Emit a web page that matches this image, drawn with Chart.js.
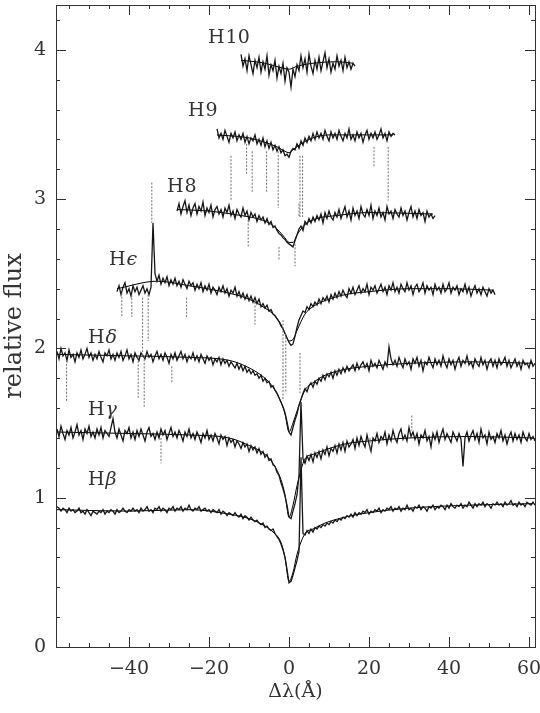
<!DOCTYPE html>
<html>
<head>
<meta charset="utf-8">
<title>Balmer line profiles</title>
<script src="https://cdn.jsdelivr.net/npm/chart.js@4.4.1/dist/chart.umd.min.js"></script>
<style>
  html, body { margin: 0; padding: 0; background: #fff; }
  canvas { display: block; }
</style>
</head>
<body>
<canvas id="spectra" width="540" height="713"></canvas>
<script>
// Normalised Balmer line spectra, sampled every 0.5 A, offset vertically
const step = 0.5;

const hBetaStart = -58;
const hBeta = [
  0.94, 0.93, 0.91, 0.93, 0.92, 0.90, 0.93, 0.91, 0.92, 0.90,
  0.91, 0.93, 0.90, 0.91, 0.89, 0.92, 0.90, 0.88, 0.91, 0.90,
  0.89, 0.91, 0.90, 0.92, 0.89, 0.91, 0.90, 0.92, 0.91, 0.89,
  0.92, 0.90, 0.91, 0.93, 0.91, 0.90, 0.92, 0.91, 0.93, 0.91,
  0.92, 0.90, 0.93, 0.91, 0.92, 0.94, 0.91, 0.92, 0.90, 0.93,
  0.92, 0.94, 0.91, 0.93, 0.92, 0.90, 0.93, 0.92, 0.94, 0.91,
  0.93, 0.92, 0.94, 0.91, 0.93, 0.92, 0.95, 0.92, 0.91, 0.93,
  0.92, 0.94, 0.91, 0.92, 0.93, 0.91, 0.92, 0.90, 0.92, 0.91,
  0.90, 0.92, 0.89, 0.91, 0.90, 0.88, 0.90, 0.89, 0.88, 0.90,
  0.88, 0.87, 0.89, 0.86, 0.88, 0.87, 0.85, 0.87, 0.85, 0.84,
  0.85, 0.83, 0.82, 0.83, 0.80, 0.81, 0.79, 0.78, 0.79, 0.76,
  0.74, 0.72, 0.69, 0.65, 0.60, 0.52, 0.43, 0.44, 0.48, 0.53,
  0.58, 0.64, 1.27, 0.76, 0.75, 0.78, 0.76, 0.79, 0.77, 0.80,
  0.79, 0.81, 0.80, 0.82, 0.81, 0.83, 0.82, 0.84, 0.83, 0.85,
  0.84, 0.86, 0.85, 0.87, 0.86, 0.88, 0.87, 0.89, 0.87, 0.90,
  0.88, 0.90, 0.89, 0.91, 0.90, 0.92, 0.89, 0.91, 0.90, 0.92,
  0.91, 0.93, 0.90, 0.92, 0.91, 0.93, 0.92, 0.94, 0.91, 0.93,
  0.92, 0.94, 0.91, 0.93, 0.92, 0.95, 0.92, 0.93, 0.91, 0.94,
  0.93, 0.95, 0.92, 0.94, 0.93, 0.91, 0.94, 0.93, 0.95, 0.92,
  0.94, 0.93, 0.95, 0.94, 0.92, 0.95, 0.93, 0.96, 0.94, 0.93,
  0.95, 0.94, 0.96, 0.93, 0.95, 0.94, 0.97, 0.95, 0.93, 0.96,
  0.94, 0.96, 0.95, 0.97, 0.94, 0.96, 0.95, 0.93, 0.96, 0.95,
  0.97, 0.95, 0.96, 0.94, 0.97, 0.95, 0.96, 0.98, 0.95, 0.96,
  0.94, 0.97, 0.95, 0.96, 0.94, 0.97, 0.96, 0.95, 0.97, 0.95
];

const hGammaStart = -58;
const hGamma = [
  1.46, 1.41, 1.48, 1.43, 1.39, 1.45, 1.42, 1.47, 1.40, 1.44,
  1.49, 1.42, 1.45, 1.39, 1.46, 1.43, 1.48, 1.41, 1.44, 1.40,
  1.46, 1.42, 1.47, 1.40, 1.45, 1.43, 1.41, 1.47, 1.53, 1.44,
  1.40, 1.46, 1.42, 1.38, 1.45, 1.43, 1.47, 1.40, 1.44, 1.39,
  1.45, 1.41, 1.46, 1.42, 1.38, 1.44, 1.47, 1.41, 1.43, 1.39,
  1.44, 1.40, 1.46, 1.42, 1.45, 1.39, 1.43, 1.47, 1.41, 1.44,
  1.40, 1.45, 1.42, 1.38, 1.44, 1.41, 1.46, 1.40, 1.43, 1.39,
  1.44, 1.41, 1.37, 1.43, 1.40, 1.45, 1.39, 1.42, 1.38, 1.43,
  1.40, 1.36, 1.42, 1.39, 1.41, 1.35, 1.40, 1.37, 1.39, 1.34,
  1.38, 1.36, 1.33, 1.37, 1.34, 1.36, 1.31, 1.35, 1.32, 1.34,
  1.30, 1.33, 1.29, 1.31, 1.27, 1.29, 1.25, 1.26, 1.22, 1.21,
  1.17, 1.15, 1.10, 1.06, 1.01, 0.95, 0.87, 0.86, 0.91, 0.96,
  1.02, 1.15, 1.64, 1.26, 1.23, 1.28, 1.25, 1.29, 1.24, 1.30,
  1.27, 1.31, 1.26, 1.32, 1.29, 1.34, 1.28, 1.33, 1.31, 1.35,
  1.30, 1.36, 1.32, 1.37, 1.31, 1.38, 1.34, 1.36, 1.39, 1.33,
  1.40, 1.35, 1.41, 1.37, 1.34, 1.42, 1.36, 1.31, 1.40, 1.38,
  1.43, 1.37, 1.41, 1.39, 1.44, 1.36, 1.42, 1.38, 1.45, 1.40,
  1.37, 1.43, 1.46, 1.39, 1.42, 1.38, 1.47, 1.41, 1.44, 1.39,
  1.43, 1.36, 1.42, 1.40, 1.45, 1.38, 1.41, 1.34, 1.43, 1.39,
  1.44, 1.37, 1.42, 1.46, 1.39, 1.43, 1.40, 1.37, 1.44, 1.41,
  1.38, 1.43, 1.39, 1.21, 1.40, 1.44, 1.38, 1.42, 1.45, 1.39,
  1.43, 1.37, 1.46, 1.40, 1.42, 1.36, 1.44, 1.39, 1.41, 1.37,
  1.43, 1.40, 1.45, 1.38, 1.42, 1.36, 1.41, 1.44, 1.38, 1.43,
  1.39, 1.42, 1.37, 1.44, 1.40, 1.38, 1.43, 1.39, 1.41, 1.38
];

const hDeltaStart = -58;
const hDelta = [
  1.98, 1.93, 2.00, 1.95, 1.97, 1.92, 1.99, 1.94, 1.96, 1.91,
  1.97, 1.94, 1.99, 1.93, 1.96, 2.00, 1.94, 1.97, 1.92, 1.96,
  1.93, 1.98, 1.94, 1.91, 1.97, 1.95, 1.99, 1.93, 1.96, 1.92,
  1.97, 1.94, 1.98, 1.92, 1.95, 1.99, 1.93, 1.96, 1.91, 1.97,
  1.94, 1.92, 1.97, 1.95, 1.93, 1.98, 1.94, 1.96, 1.91, 1.95,
  1.98, 1.93, 1.96, 1.92, 1.97, 1.94, 1.90, 1.96, 1.93, 1.97,
  1.92, 1.95, 1.98, 1.93, 1.96, 1.91, 1.95, 1.93, 1.97, 1.92,
  1.95, 1.91, 1.96, 1.93, 1.90, 1.95, 1.92, 1.94, 1.89, 1.93,
  1.91, 1.94, 1.89, 1.93, 1.90, 1.92, 1.88, 1.91, 1.89, 1.87,
  1.90, 1.86, 1.89, 1.85, 1.88, 1.84, 1.86, 1.83, 1.85, 1.82,
  1.83, 1.80, 1.82, 1.78, 1.80, 1.77, 1.78, 1.74, 1.75, 1.72,
  1.70, 1.67, 1.64, 1.61, 1.57, 1.51, 1.44, 1.42, 1.47, 1.52,
  1.56, 1.62, 1.66, 1.70, 1.73, 1.71, 1.75, 1.77, 1.74, 1.78,
  1.76, 1.80, 1.78, 1.82, 1.79, 1.83, 1.81, 1.84, 1.80, 1.85,
  1.82, 1.86, 1.83, 1.87, 1.84, 1.88, 1.85, 1.87, 1.89, 1.85,
  1.90, 1.86, 1.89, 1.91, 1.87, 1.90, 1.85, 1.92, 1.88, 1.90,
  1.87, 1.92, 1.89, 1.86, 1.91, 1.88, 2.01, 1.93, 1.89, 1.92,
  1.88, 1.94, 1.90, 1.87, 1.93, 1.89, 1.91, 1.86, 1.93, 1.90,
  1.94, 1.88, 1.92, 1.85, 1.91, 1.89, 1.94, 1.90, 1.87, 1.93,
  1.89, 1.92, 1.88, 1.95, 1.90, 1.87, 1.93, 1.89, 1.92, 1.86,
  1.91, 1.94, 1.88, 1.92, 1.90, 1.95, 1.89, 1.91, 1.87, 1.93,
  1.90, 1.88, 1.94, 1.89, 1.92, 1.86, 1.91, 1.93, 1.88, 1.92,
  1.87, 1.93, 1.89, 1.91, 1.94, 1.88, 1.92, 1.87, 1.90, 1.93,
  1.88, 1.91, 1.86, 1.92, 1.89, 1.90, 1.87, 1.92, 1.88, 1.90
];

const hEpsStart = -43;
const hEps = [
  2.38, 2.42, 2.36, 2.41, 2.44, 2.37, 2.40, 2.35, 2.42, 2.38,
  2.41, 2.36, 2.39, 2.42, 2.37, 2.40, 2.36, 2.41, 2.84, 2.50,
  2.45, 2.49, 2.43, 2.47, 2.44, 2.48, 2.42, 2.46, 2.43, 2.47,
  2.42, 2.45, 2.41, 2.46, 2.43, 2.40, 2.45, 2.42, 2.44, 2.39,
  2.43, 2.40, 2.44, 2.38, 2.42, 2.39, 2.43, 2.37, 2.41, 2.39,
  2.36, 2.41, 2.38, 2.42, 2.37, 2.40, 2.35, 2.39, 2.37, 2.41,
  2.35, 2.38, 2.34, 2.37, 2.33, 2.36, 2.32, 2.35, 2.31, 2.34,
  2.30, 2.33, 2.28, 2.30, 2.27, 2.29, 2.25, 2.26, 2.23, 2.22,
  2.20, 2.18, 2.15, 2.13, 2.10, 2.07, 2.04, 2.02, 2.03, 2.08,
  2.14, 2.19, 2.22, 2.25, 2.24, 2.28, 2.26, 2.30, 2.28, 2.31,
  2.29, 2.33, 2.30, 2.34, 2.32, 2.35, 2.31, 2.36, 2.33, 2.37,
  2.34, 2.38, 2.35, 2.39, 2.36, 2.34, 2.40, 2.37, 2.41, 2.36,
  2.39, 2.42, 2.37, 2.40, 2.38, 2.43, 2.36, 2.41, 2.39, 2.42,
  2.37, 2.40, 2.43, 2.38, 2.41, 2.36, 2.42, 2.39, 2.44, 2.38,
  2.41, 2.37, 2.43, 2.40, 2.38, 2.44, 2.39, 2.42, 2.36, 2.41,
  2.43, 2.38, 2.40, 2.44, 2.37, 2.42, 2.39, 2.41, 2.36, 2.43,
  2.39, 2.41, 2.37, 2.43, 2.38, 2.40, 2.44, 2.37, 2.41, 2.39,
  2.42, 2.36, 2.40, 2.38, 2.43, 2.37, 2.41, 2.35, 2.39, 2.42,
  2.37, 2.40, 2.36, 2.41, 2.38, 2.35, 2.40, 2.37, 2.39, 2.36
];

const h8Start = -28;
const h8 = [
  2.92, 2.97, 2.90, 2.95, 2.99, 2.91, 2.96, 2.89, 2.94, 2.97,
  2.90, 2.95, 2.92, 2.98, 2.89, 2.94, 2.91, 2.96, 2.88, 2.93,
  2.95, 2.90, 2.93, 2.88, 2.94, 2.91, 2.96, 2.89, 2.92, 2.87,
  2.93, 2.90, 2.88, 2.94, 2.89, 2.92, 2.86, 2.91, 2.88, 2.90,
  2.85, 2.89, 2.86, 2.88, 2.84, 2.87, 2.83, 2.85, 2.81, 2.82,
  2.79, 2.77, 2.76, 2.74, 2.73, 2.71, 2.70, 2.69, 2.68, 2.72,
  2.76, 2.80, 2.82, 2.79, 2.85, 2.83, 2.87, 2.84, 2.88, 2.85,
  2.89, 2.86, 2.90, 2.84, 2.91, 2.87, 2.92, 2.88, 2.86, 2.91,
  2.88, 2.93, 2.87, 2.91, 2.95, 2.88, 2.92, 2.86, 2.94, 2.89,
  2.92, 2.87, 2.95, 2.90, 2.88, 2.93, 2.89, 2.96, 2.87, 2.92,
  2.89, 2.94, 2.88, 2.91, 2.86, 2.95, 2.90, 2.92, 2.87, 2.93,
  2.90, 2.88, 2.94, 2.89, 2.92, 2.86, 2.91, 2.95, 2.88, 2.92,
  2.87, 2.93, 2.89, 2.91, 2.85, 2.92, 2.88, 2.90, 2.87, 2.89
];

const h9Start = -18;
const h9 = [
  3.47, 3.41, 3.44, 3.40, 3.46, 3.42, 3.38, 3.44, 3.41, 3.45,
  3.39, 3.43, 3.40, 3.44, 3.38, 3.42, 3.37, 3.41, 3.39, 3.43,
  3.37, 3.40, 3.36, 3.41, 3.35, 3.39, 3.34, 3.38, 3.33, 3.36,
  3.32, 3.35, 3.31, 3.33, 3.29, 3.30, 3.28, 3.32, 3.34, 3.33,
  3.37, 3.34, 3.39, 3.36, 3.41, 3.38, 3.42, 3.39, 3.44, 3.40,
  3.45, 3.41, 3.44, 3.40, 3.46, 3.42, 3.39, 3.45, 3.41, 3.44,
  3.40, 3.46, 3.42, 3.39, 3.44, 3.41, 3.47, 3.40, 3.43, 3.39,
  3.45, 3.41, 3.44, 3.38, 3.43, 3.46, 3.40, 3.44, 3.41, 3.45,
  3.40, 3.43, 3.47, 3.41, 3.44, 3.39, 3.45, 3.42, 3.44, 3.43
];

const h10Start = -12;
const h10 = [
  3.97, 3.89, 3.94, 3.86, 3.96, 3.90, 3.84, 3.93, 3.88, 3.95,
  3.85, 3.92, 3.87, 3.96, 3.83, 3.90, 3.86, 3.93, 3.81, 3.89,
  3.84, 3.91, 3.79, 3.88, 3.85, 3.75, 3.87, 3.82, 3.90, 3.86,
  3.96, 3.88, 3.94, 3.85, 3.97, 3.89, 3.84, 3.93, 3.87, 3.95,
  3.86, 3.92, 3.98, 3.88, 3.94, 3.85, 3.91, 3.87, 3.96, 3.89,
  3.93, 3.86, 3.95, 3.88, 3.92, 3.87, 3.91, 3.89
];

// smooth model profiles drawn over each spectrum
const modelXWide = [-58, -40, -25, -15, -10, -6, -4, -2, -1, 0, 1, 2, 4, 6, 9, 14, 20, 30, 45, 61];
const modelBeta  = [0.92, 0.91, 0.92, 0.89, 0.86, 0.81, 0.77, 0.70, 0.60, 0.44, 0.50, 0.62, 0.76, 0.79, 0.83, 0.87, 0.90, 0.93, 0.95, 0.96];
const modelGamma = [1.44, 1.43, 1.42, 1.40, 1.35, 1.29, 1.23, 1.12, 1.02, 0.87, 0.95, 1.08, 1.26, 1.29, 1.32, 1.36, 1.38, 1.40, 1.41, 1.40];
const modelDelta = [1.96, 1.95, 1.94, 1.92, 1.87, 1.80, 1.74, 1.64, 1.56, 1.44, 1.50, 1.58, 1.72, 1.77, 1.82, 1.86, 1.88, 1.90, 1.91, 1.90];
const modelXEps  = [-43, -33, -25, -15, -10, -6, -4, -2, -1, 0, 1, 2, 4, 6, 9, 14, 20, 30, 40, 51];
const modelEps   = [2.40, 2.45, 2.42, 2.37, 2.33, 2.27, 2.23, 2.16, 2.10, 2.05, 2.06, 2.12, 2.23, 2.28, 2.32, 2.36, 2.38, 2.40, 2.40, 2.39];
const modelX8    = [-28, -20, -12, -8, -5, -3, -1, 0, 1, 2, 4, 7, 12, 20, 36];
const model8     = [2.93, 2.92, 2.89, 2.87, 2.84, 2.80, 2.74, 2.71, 2.71, 2.76, 2.83, 2.87, 2.89, 2.91, 2.90];
const modelX9    = [-18, -10, -6, -3, -1, 0, 1, 3, 6, 10, 18, 26];
const model9     = [3.43, 3.41, 3.38, 3.35, 3.32, 3.31, 3.33, 3.37, 3.41, 3.43, 3.43, 3.43];
const modelX10   = [-12, -6, -2, 0, 2, 6, 12, 16];
const model10    = [3.93, 3.91, 3.88, 3.87, 3.89, 3.91, 3.92, 3.91];

// masked pixels (dotted): wavelength, upper and lower flux
const maskX  = [-14.5, -10.6, -9.2, -5.6, -2.7, 2.75, 3.4, 21.25, 24.8, -10.2, -2.5, 1.5, 2.5,
                -41.8, -39.3, -36.6, -35.2, -34.3, -25.6, -8.5, -1.5, -0.8, 2.75,
                -55.6, -37.7, -36.2, -29.3, -32, 20.25, 30.7];
const maskHi = [3.29, 3.37, 3.32, 3.32, 3.32, 3.29, 3.29, 3.35, 3.35, 2.86, 2.68, 2.70, 2.97,
                2.37, 2.36, 2.34, 2.36, 3.11, 2.34, 2.31, 2.19, 2.10, 1.97,
                1.92, 1.94, 1.95, 1.88, 1.40, 1.40, 1.55];
const maskLo = [2.99, 3.17, 3.04, 3.05, 2.94, 2.88, 2.88, 3.21, 2.99, 2.68, 2.59, 2.55, 2.88,
                2.21, 2.21, 1.95, 2.05, 2.84, 2.20, 2.16, 1.65, 1.70, 1.70,
                1.64, 1.67, 1.61, 1.77, 1.23, 1.31, 1.45];

const lineNames = ["H10", "H9", "H8", "H\u03f5", "H\u03b4", "H\u03b3", "H\u03b2"];
const xTicks = [-40, -20, 0, 20, 40, 60];
const yTicks = [0, 1, 2, 3, 4];

function spectrum(x0, ys) {
  return ys.map((y, i) => ({ x: x0 + i * step, y: y }));
}
function pairs(xs, ys) {
  return xs.map((x, i) => ({ x: x, y: ys[i] }));
}

const maskPoints = [];
maskX.forEach((x, i) => {
  maskPoints.push({ x: x, y: maskHi[i] }, { x: x, y: maskLo[i] }, { x: x, y: null });
});

const FONT = '"DejaVu Serif", "Liberation Serif", serif';
const INK = "#333";

const spectra = [
  spectrum(h10Start, h10), spectrum(h9Start, h9), spectrum(h8Start, h8),
  spectrum(hEpsStart, hEps), spectrum(hDeltaStart, hDelta),
  spectrum(hGammaStart, hGamma), spectrum(hBetaStart, hBeta)
];
const models = [
  pairs(modelX10, model10), pairs(modelX9, model9), pairs(modelX8, model8),
  pairs(modelXEps, modelEps), pairs(modelXWide, modelDelta),
  pairs(modelXWide, modelGamma), pairs(modelXWide, modelBeta)
];

const datasets = [{
  label: "masked",
  data: maskPoints,
  borderColor: "#6f6f6f",
  borderWidth: 1,
  borderDash: [2, 1.5],
  spanGaps: false,
  pointRadius: 0,
}];
spectra.forEach((pts, i) => {
  datasets.push({
    label: lineNames[i],
    data: pts,
    borderColor: "#161616",
    borderWidth: 1.3,
    pointRadius: 0,
    tension: 0,
  });
});
models.forEach((pts, i) => {
  datasets.push({
    label: lineNames[i] + " model",
    data: pts,
    borderColor: "#000",
    borderWidth: 1,
    pointRadius: 0,
    cubicInterpolationMode: "monotone",
  });
});

// line names placed in data coordinates next to each profile
const labelAt = [[-20.25, 4.08], [-25.25, 3.59], [-30.5, 3.08], [-45, 2.59], [-50.25, 2.07], [-50.25, 1.585], [-50.25, 1.117]];

// no extra room for overhanging tick labels: the frame fills the canvas
function noPad(scale) {
  scale.paddingLeft = 0;
  scale.paddingRight = 0;
  scale.paddingTop = 0;
  scale.paddingBottom = 0;
}

const frameTicks = {
  id: "frameTicks",
  afterDraw(chart) {
    const { ctx, chartArea: a, scales } = chart;
    const xs = scales.x, ys = scales.y;
    ctx.save();
    ctx.strokeStyle = "#333";
    ctx.lineWidth = 1;
    ctx.strokeRect(Math.round(a.left) + 0.5, Math.round(a.top) + 0.5,
                   Math.round(a.right - a.left), Math.round(a.bottom - a.top));
    ctx.beginPath();
    for (let v = -55; v <= 60; v += 5) {
      const px = Math.round(xs.getPixelForValue(v)) + 0.5;
      const len = v % 20 === 0 ? 10 : 4;
      ctx.moveTo(px, a.bottom); ctx.lineTo(px, a.bottom - len);
      ctx.moveTo(px, a.top); ctx.lineTo(px, a.top + len);
    }
    for (let k = 0; k <= 21; k++) {
      const v = k / 5;
      const py = Math.round(ys.getPixelForValue(v)) + 0.5;
      const len = k % 5 === 0 ? 10 : 4;
      ctx.moveTo(a.left, py); ctx.lineTo(a.left + len, py);
      ctx.moveTo(a.right, py); ctx.lineTo(a.right - len, py);
    }
    ctx.stroke();

    ctx.fillStyle = INK;
    ctx.textBaseline = "middle";
    lineNames.forEach((name, i) => {
      let px = xs.getPixelForValue(labelAt[i][0]);
      const py = ys.getPixelForValue(labelAt[i][1]);
      ctx.font = "19px " + FONT;
      ctx.fillText("H", px, py);
      px += ctx.measureText("H").width + 1;
      const rest = name.slice(1);
      ctx.font = (/\d/.test(rest) ? "" : "italic ") + "19px " + FONT;
      ctx.fillText(rest, px, py);
    });
    ctx.restore();
  }
};

new Chart(document.getElementById("spectra"), {
  type: "line",
  data: { datasets: datasets },
  plugins: [frameTicks],
  options: {
    responsive: false,
    animation: false,
    devicePixelRatio: 1,
    layout: { autoPadding: false, padding: { top: 5, right: 5, left: 0, bottom: 0 } },
    plugins: { legend: { display: false }, tooltip: { enabled: false } },
    scales: {
      x: {
        type: "linear",
        min: -58.25,
        max: 61.5,
        grid: { display: false, drawTicks: false },
        border: { display: false },
        afterFit: (scale) => { scale.height = 66; noPad(scale); },
        afterBuildTicks: (scale) => { scale.ticks = xTicks.map((v) => ({ value: v })); },
        ticks: {
          color: INK,
          padding: 11,
          maxRotation: 0,
          font: { family: FONT, size: 19 },
          callback: (v) => (v < 0 ? "\u2212" + Math.abs(v) : String(v)),
        },
        title: {
          display: true,
          text: "\u0394\u03bb(\u00c5)",
          color: INK,
          font: { family: FONT, size: 19 },
          padding: { top: 0, bottom: 10 },
        },
      },
      y: {
        min: 0,
        max: 4.3,
        grid: { display: false, drawTicks: false },
        border: { display: false },
        afterFit: (scale) => { scale.width = 56; noPad(scale); },
        afterBuildTicks: (scale) => { scale.ticks = yTicks.map((v) => ({ value: v })); },
        ticks: {
          color: INK,
          padding: 10,
          font: { family: FONT, size: 19 },
        },
        title: {
          display: true,
          text: "relative flux",
          color: INK,
          font: { family: FONT, size: 24 },
          padding: { top: 0, bottom: 0 },
        },
      },
    },
  },
});
</script>
</body>
</html>
